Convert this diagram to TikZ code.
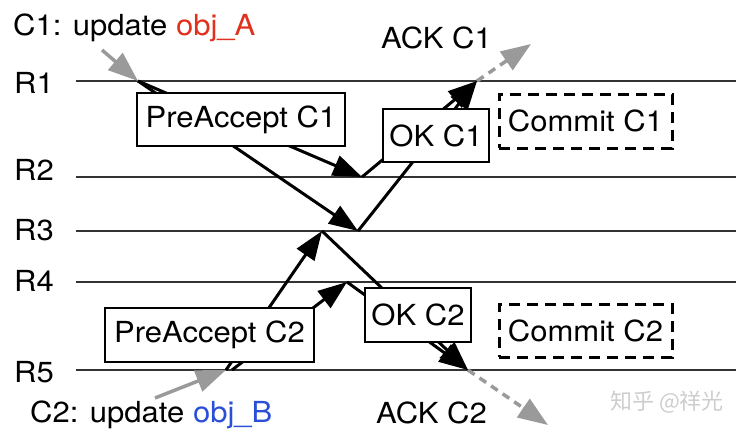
\documentclass[tikz,border=0pt]{standalone}
\usepackage{fontspec}
\setmainfont{TeX Gyre Heros}[FakeStretch=1.07]
\newfontfamily\cjkfont{Noto Sans CJK SC}
\usetikzlibrary{arrows.meta,calc}
\definecolor{ackgray}{HTML}{9A9A9A}
\definecolor{objred}{HTML}{E0301E}
\definecolor{objblue}{HTML}{2A4FD6}
\definecolor{railgray}{HTML}{333333}
\definecolor{wmgray}{HTML}{CDCDCD}
\tikzset{
  bigfont/.style={font=\fontsize{29}{33}\selectfont},
  rail/.style={line width=1.5pt, draw=railgray},
  msg/.style={line width=3pt, draw=black, -{Triangle[length=29pt,width=21pt]}},
  client/.style={line width=3.5pt, draw=ackgray, -{Triangle[length=30pt,width=22pt]}},
  ackdash/.style={line width=3.5pt, draw=ackgray, dash pattern=on 8pt off 6pt},
  msgbox/.style={draw, fill=white, line width=1.3pt, inner sep=0pt, bigfont},
  commitbox/.style={draw, dash pattern=on 11pt off 7pt, line width=3pt, inner sep=0pt, bigfont},
  lbl/.style={anchor=base west, inner sep=0pt, bigfont},
}
\begin{document}
\begin{tikzpicture}[x=1pt,y=-1pt]
\useasboundingbox (0,0) rectangle (745,434);
% rails
\foreach \n/\y in {1/81,2/177,3/231,4/282,5/370}{
  \coordinate (r\n w) at (76,\y);
  \coordinate (r\n e) at (736,\y);
  \draw[rail] (r\n w) -- (r\n e);
}
% labels
\node[lbl] (lR1) at (14,93) {R1};
\node[lbl] (lR2) at (14,180) {R2};
\node[lbl] (lR3) at (14,240) {R3};
\node[lbl] (lR4) at (14,291) {R4};
\node[lbl] (lR5) at (14,382) {R5};
\node[lbl] (lc1) at (13,35) {C1: update \textcolor{objred}{obj\_A}};
\node[lbl] (lc2) at (30,422) {C2: update \textcolor{objblue}{obj\_B}};
\node[lbl] (lack1) at (381,48) {ACK C1};
\node[lbl] (lack2) at (376,423) {ACK C2};
\node[anchor=base west, inner sep=0pt, text=wmgray, font=\cjkfont\fontsize{22}{24}\selectfont] (wm) at (610,409) {知乎 @祥光};
% points
\coordinate (c1src) at (102,50);
\coordinate (a1) at (138,81);
\coordinate (b2) at (362,177);
\coordinate (b3) at (358,231);
\coordinate (a1ack) at (477,81);
\coordinate (ack1end) at (531,44);
\coordinate (ack1mid) at ($(a1ack)!0.52!(ack1end)$);
\coordinate (c2src) at (155,398);
\coordinate (d5) at (226,370);
\coordinate (d5b) at (232,370);
\coordinate (e3) at (322,231);
\coordinate (e4) at (347,282);
\coordinate (f5) at (468,370);
\coordinate (ack2end) at (548,425);
\coordinate (ack2mid) at ($(f5)!0.69!(ack2end)$);
% connectors
\draw[client] (c1src) -- (a1);
\draw[msg] (a1) -- (b2);
\draw[msg] (a1) -- (b3);
\draw[msg] (b2) -- (a1ack);
\draw[msg] (b3) -- (a1ack);
\draw[ackdash] (a1ack) -- ($(a1ack)!0.62!(ack1end)$);
\draw[client] (ack1mid) -- (ack1end);
\draw[client] (c2src) -- (d5);
\draw[msg] (d5) -- (e3);
\draw[msg] (d5b) -- (e4);
\draw[msg] (e3) -- (f5);
\draw[msg] (e4) -- (f5);
\draw[ackdash] (f5) -- ($(f5)!0.76!(ack2end)$);
\draw[client] (ack2mid) -- (ack2end);
% boxes
\node[msgbox, minimum width=208pt, minimum height=53pt] (pa1) at (241,119.5) {PreAccept C1};
\node[msgbox, minimum width=106pt, minimum height=53pt] (ok1) at (436,135.5) {OK C1};
\node[commitbox, minimum width=173pt, minimum height=54pt] (cm1) at (585.5,121) {Commit C1};
\node[msgbox, minimum width=209pt, minimum height=54pt] (pa2) at (209.5,335) {PreAccept C2};
\node[msgbox, minimum width=106pt, minimum height=54pt] (ok2) at (418,315) {OK C2};
\node[commitbox, minimum width=173pt, minimum height=53pt] (cm2) at (585.5,330.5) {Commit C2};
\end{tikzpicture}
\end{document}
